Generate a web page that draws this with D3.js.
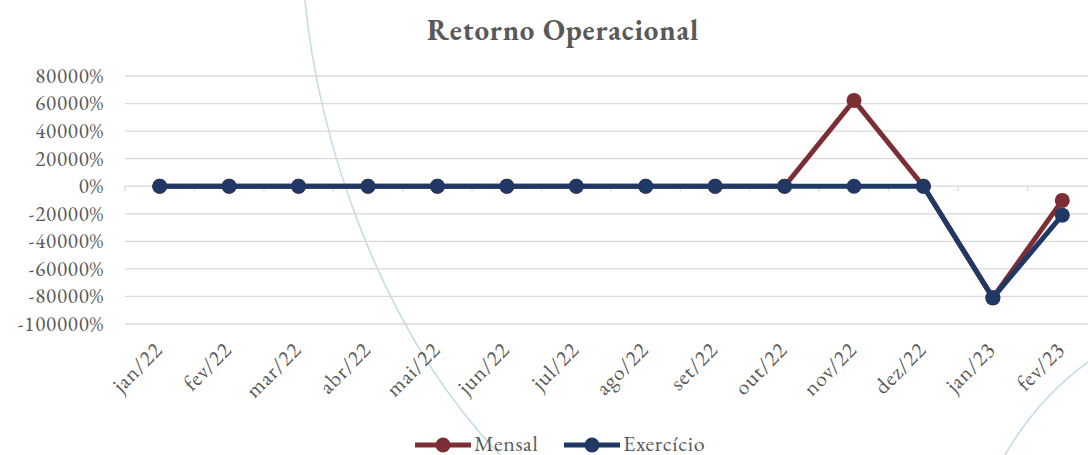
<!DOCTYPE html>
<html>
<head>
<meta charset="utf-8">
<script src="https://cdn.jsdelivr.net/npm/d3@7"></script>
<style>
  body { margin: 0; background: #fff; }
  svg { display: block; font-family: "EB Garamond", serif; }
</style>
</head>
<body>
<svg class="viz"></svg>
<script>
var width = 1088,
  height = 455;

var months = ["jan/22", "fev/22", "mar/22", "abr/22", "mai/22", "jun/22", "jul/22",
  "ago/22", "set/22", "out/22", "nov/22", "dez/22", "jan/23", "fev/23"];
var mensal = [0, 0, 0, 0, 0, 0, 0, 0, 0, 0, 62300, 0, -81000, -10300];
var exercicio = [0, 0, 0, 0, 0, 0, 0, 0, 0, 0, 0, 0, -81000, -21000];
var y_ticks = [80000, 60000, 40000, 20000, 0, -20000, -40000, -60000, -80000, -100000];

var series = [
  { name: "Mensal", values: mensal, color: "#7b2f35" },
  { name: "Exercício", values: exercicio, color: "#203864" }
];

var viz = d3.select(".viz")
  .attr("width", width)
  .attr("height", height);

// faint decorative curves behind the chart
viz.append("path")
  .attr("d", "M305,0 C318,140 380,330 500,455")
  .attr("fill", "none")
  .attr("stroke", "#c4dde9")
  .attr("stroke-width", 1.6);
viz.append("path")
  .attr("d", "M1005,455 C1025,420 1050,390 1088,362")
  .attr("fill", "none")
  .attr("stroke", "#c4dde9")
  .attr("stroke-width", 1.6);

var x = d3.scaleBand()
  .domain(months)
  .range([125, 1097]);

var y = d3.scaleLinear()
  .domain([-100000, 80000])
  .range([324, 76]);

// grid
viz.append("g").selectAll("line")
  .data(y_ticks)
  .enter()
  .append("line")
  .attr("x1", 125)
  .attr("x2", width)
  .attr("y1", d => y(d))
  .attr("y2", d => y(d))
  .attr("stroke", "#d9d9d9")
  .attr("stroke-width", 1.3);

// y labels
viz.append("g").selectAll("text")
  .data(y_ticks)
  .enter()
  .append("text")
  .attr("x", 104)
  .attr("y", d => y(d))
  .attr("dy", "0.33em")
  .attr("text-anchor", "end")
  .attr("fill", "#595959")
  .style("font-size", "21px")
  .style("letter-spacing", "0.8px")
  .text(d => d + "%");

// category ticks on the zero line
viz.append("g").selectAll("line")
  .data(months.concat(["end"]))
  .enter()
  .append("line")
  .attr("x1", (d, i) => 125 + i * x.step())
  .attr("x2", (d, i) => 125 + i * x.step())
  .attr("y1", y(0))
  .attr("y2", y(0) + 5)
  .attr("stroke", "#d9d9d9")
  .attr("stroke-width", 1.3);

// x labels, rotated
viz.append("g").selectAll("text")
  .data(months)
  .enter()
  .append("text")
  .attr("transform", d => "translate(" + (x(d) + x.bandwidth() / 2 + 4) + ",351) rotate(-45)")
  .attr("text-anchor", "end")
  .attr("fill", "#595959")
  .style("font-size", "22px")
  .style("letter-spacing", "0.8px")
  .text(d => d);

// title
viz.append("text")
  .attr("x", 563)
  .attr("y", 40)
  .attr("text-anchor", "middle")
  .attr("fill", "#595959")
  .style("font-size", "29px")
  .style("font-weight", "bold")
  .style("letter-spacing", "0.8px")
  .text("Retorno Operacional");

var line = d3.line()
  .x((d, i) => x(months[i]) + x.bandwidth() / 2)
  .y(d => y(d));

series.forEach(function(s) {
  var g = viz.append("g");
  g.append("path")
    .attr("d", line(s.values))
    .attr("fill", "none")
    .attr("stroke", s.color)
    .attr("stroke-width", 5)
    .attr("stroke-linejoin", "round");
  g.selectAll("circle")
    .data(s.values)
    .enter()
    .append("circle")
    .attr("cx", (d, i) => x(months[i]) + x.bandwidth() / 2)
    .attr("cy", d => y(d))
    .attr("r", 7.5)
    .attr("fill", s.color);
});

// legend
var legend = viz.append("g").selectAll("g")
  .data(series)
  .enter()
  .append("g")
  .attr("transform", (d, i) => "translate(" + (415 + i * 149) + ",445)");
legend.append("line")
  .attr("x1", 0)
  .attr("x2", 56)
  .attr("stroke", d => d.color)
  .attr("stroke-width", 5);
legend.append("circle")
  .attr("cx", 28)
  .attr("r", 7.5)
  .attr("fill", d => d.color);
legend.append("text")
  .attr("x", 59)
  .attr("y", 6)
  .attr("fill", "#595959")
  .style("font-size", "22px")
  .style("letter-spacing", "0.6px")
  .text(d => d.name);
</script>
</body>
</html>
